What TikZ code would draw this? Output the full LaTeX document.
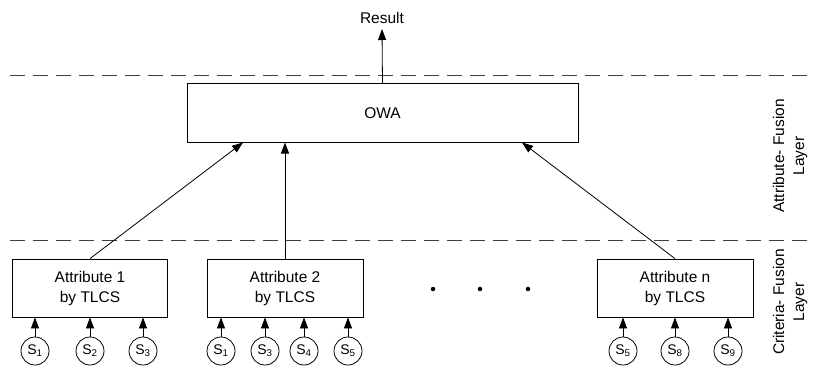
\documentclass[tikz,border=0pt]{standalone}
\usepackage{fontspec}
\setmainfont{Liberation Sans}
\usetikzlibrary{arrows.meta}
\begin{document}
\begin{tikzpicture}[x=1pt,y=-1pt,
  every node/.style={font=\fontsize{15.5}{20}\selectfont},
  boxstyle/.style={draw, line width=0.8pt, inner sep=0pt, align=center},
  src/.style={draw, circle, line width=0.8pt, minimum size=28pt, inner sep=0pt, font=\fontsize{14}{16}\selectfont},
  arr/.style={line width=0.8pt, -{Triangle[length=11pt,width=8pt]}},
  layerline/.style={line width=0.9pt, dash pattern=on 15pt off 8pt, black!75},
  dotstyle/.style={circle, fill, minimum size=4.5pt, inner sep=0pt}
]
\useasboundingbox (0,0) rectangle (814,367);
% dashed layer lines
\coordinate (l1a) at (10,75); \coordinate (l1b) at (814,75);
\coordinate (l2a) at (10,240); \coordinate (l2b) at (814,240);
\draw[layerline] (l1a) -- (l1b);
\draw[layerline] (l2a) -- (l2b);
% OWA
\node[boxstyle, minimum width=391pt, minimum height=59pt] (owa) at (382.5,113) {OWA};
\node (res) at (382,18) {Result};
\draw[arr] (owa.north) -- (382,29) coordinate (resend);
% attribute boxes
\node[boxstyle, minimum width=155pt, minimum height=58pt] (a1) at (90,288) {Attribute 1\\by TLCS};
\node[boxstyle, minimum width=156pt, minimum height=58pt] (a2) at (285,288) {Attribute 2\\by TLCS};
\node[boxstyle, minimum width=156pt, minimum height=58pt] (an) at (675,288) {Attribute n\\by TLCS};
% dots
\node[dotstyle] (d1) at (433,289) {};
\node[dotstyle] (d2) at (480,289) {};
\node[dotstyle] (d3) at (528,289) {};
% arrows to OWA
\draw[arr] (a1.north) -- (243,142.5);
\draw[arr] (a2.north) -- (285,142.5);
\draw[arr] (an.north) -- (522,142.5);
% sources
\foreach \nm/\xx/\lab/\tgt in {s11/35/1/a1, s12/90/2/a1, s13/143/3/a1,
  s21/221/1/a2, s23/265/3/a2, s24/304/4/a2, s25/348/5/a2,
  sn5/623/5/an, sn8/675/8/an, sn9/728/9/an}{
  \node[src] (\nm) at (\xx,351) {S\textsubscript{\lab}};
  \draw[arr] (\nm.north) -- (\tgt.south -| \nm.north);
}
% side labels
\node[rotate=90, align=center] (lab1) at (790,156) {Attribute- Fusion\\Layer};
\node[rotate=90, align=center] (lab2) at (790,302) {Criteria- Fusion\\Layer};
\end{tikzpicture}
\end{document}
